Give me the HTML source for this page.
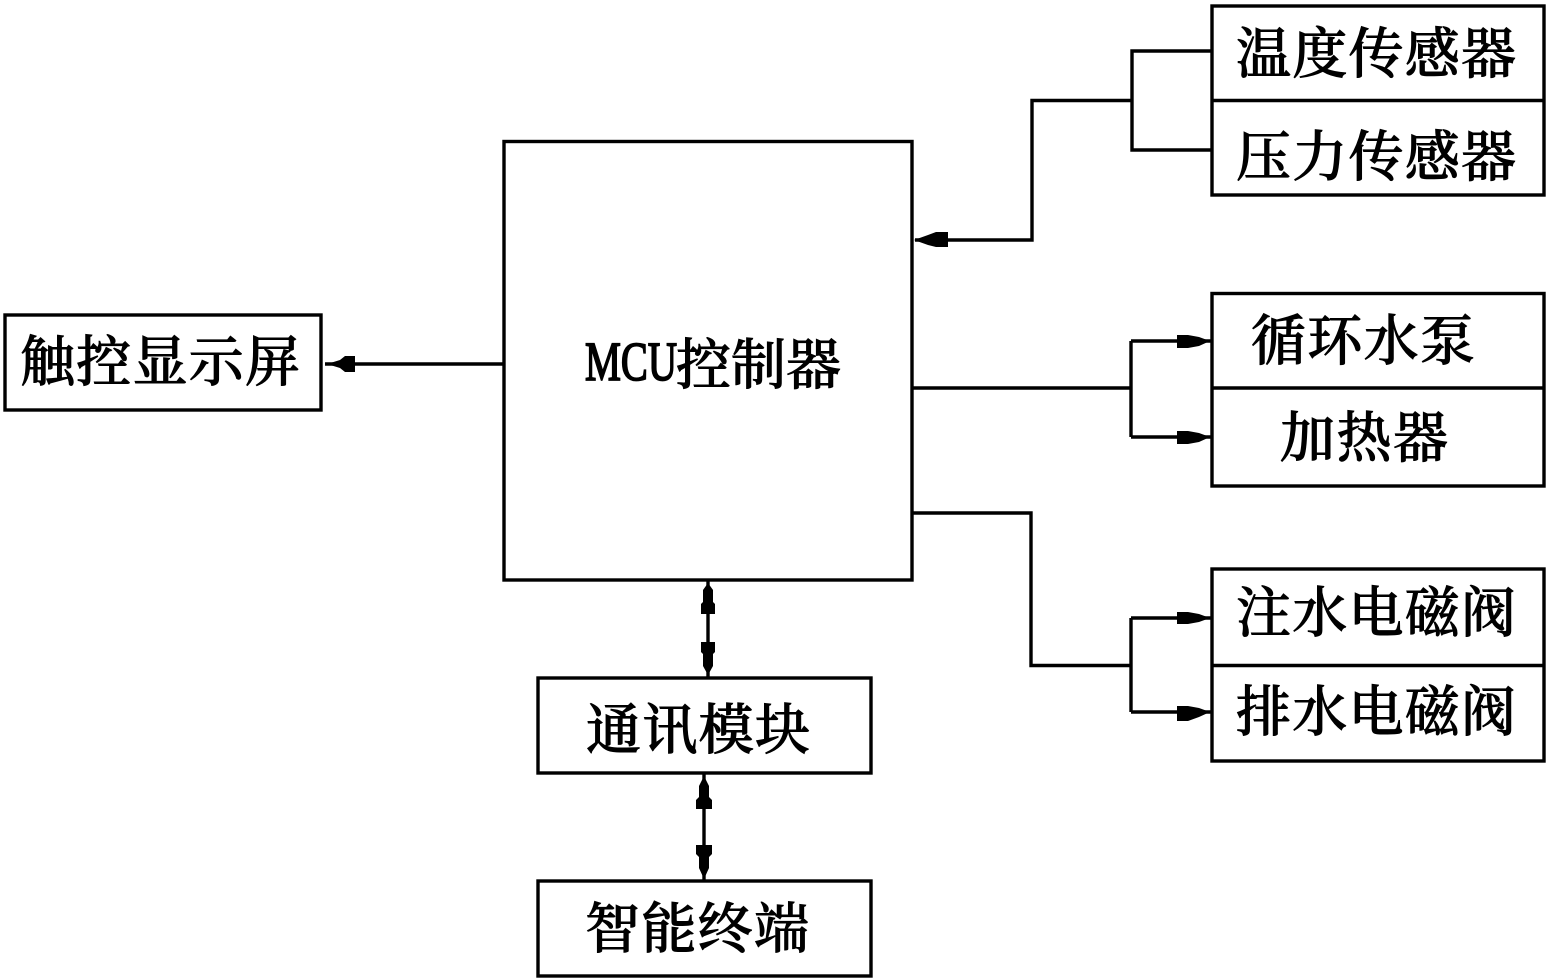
<!DOCTYPE html>
<html lang="zh">
<head>
<meta charset="utf-8">
<style>
html,body{margin:0;padding:0;background:#fff;width:1546px;height:978px;overflow:hidden}
svg{display:block}
text{font-family:"Liberation Serif","Noto Serif CJK SC","Noto Sans CJK SC",serif;font-size:55px;fill:#000;stroke:#000;stroke-width:.9;font-weight:500;text-anchor:start}
</style>
</head>
<body>
<svg width="1546" height="978" viewBox="0 0 1546 978" xmlns="http://www.w3.org/2000/svg">
<g fill="none" stroke="#000" stroke-width="3.400">
<rect x="1212" y="6" width="332" height="189"/>
<path d="M1212 100.500H1544"/>
<rect x="1212" y="293.500" width="332" height="192.500"/>
<path d="M1212 388H1544"/>
<rect x="1212" y="569" width="332" height="192"/>
<path d="M1212 665.500H1544"/>
<rect x="504" y="141.500" width="408" height="438.500"/>
<rect x="5" y="315" width="316" height="95"/>
<rect x="538" y="678" width="333" height="95"/>
<rect x="538" y="881" width="333" height="95"/>
<path d="M1212 51H1132V150H1212M1132 100.500H1032V240H915"/>
<path d="M912 388H1131M1131 341H1212M1131 341V437M1131 437H1212"/>
<path d="M912 513H1031V665.500H1131M1131 618V712M1131 618H1212M1131 712H1212"/>
<path d="M504 364H325"/>
<path d="M708 580V678M704 773V881"/>
</g>
<g fill="#000">
<path d="M914 240L928 235L936 232H948V247H936L928 245Z"/>
<path d="M327 364L340 360L345 356H355V372H345L340 368Z"/>
<path d="M1210 341L1199 337L1188 335H1177V348H1188L1199 346Z"/>
<path d="M1210 437L1199 433L1188 431H1177V444H1188L1199 442Z"/>
<path d="M1210 618L1199 614L1188 612H1177V624H1188L1199 622Z"/>
<path d="M1210 712L1199 708L1188 706H1177V721H1188L1199 717Z"/>
<path d="M708 583L713 590V602L715 604V614H701V604L703 602V590Z"/>
<path d="M708 675L713 666V654L715 652V642H701V652L703 654V666Z"/>
<path d="M704 776L709 786V797L712 800V809H696V800L699 797V786Z"/>
<path d="M704 879L709 868V857L712 854V845H696V854L699 857V868Z"/>
</g>
<text x="1236" y="73" textLength="280" lengthAdjust="spacing">温度传感器</text>
<text x="1236" y="176" textLength="280" lengthAdjust="spacing">压力传感器</text>
<text x="1251" y="360" textLength="224" lengthAdjust="spacing">循环水泵</text>
<text x="1280" y="457" textLength="168" lengthAdjust="spacing">加热器</text>
<text x="1236" y="632" textLength="280" lengthAdjust="spacing">注水电磁阀</text>
<text x="1236" y="731" textLength="280" lengthAdjust="spacing">排水电磁阀</text>
<text x="20" y="381" textLength="280" lengthAdjust="spacing">触控显示屏</text>
<text x="586" y="749" textLength="224" lengthAdjust="spacing">通讯模块</text>
<text x="585" y="948" textLength="224" lengthAdjust="spacing">智能终端</text>
<text x="585" y="380" textLength="92" lengthAdjust="spacingAndGlyphs" style="stroke-width:1.800">MCU</text>
<text x="676" y="384" textLength="165" lengthAdjust="spacing">控制器</text>
</svg>
</body>
</html>
